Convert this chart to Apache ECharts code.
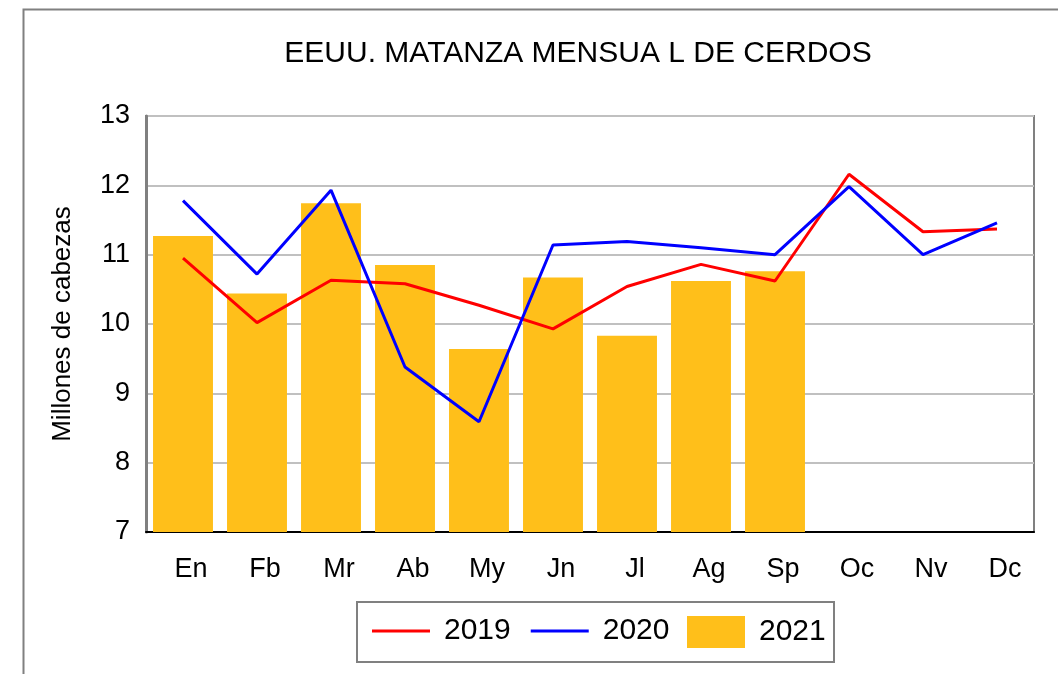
<!DOCTYPE html>
<html>
<head>
<meta charset="utf-8">
<script src="https://cdn.jsdelivr.net/npm/echarts@6/dist/echarts.min.js"></script>
<style>html,body{margin:0;padding:0;background:#fff;}#c{width:1058px;height:674px;}</style>
</head>
<body>
<div id="c"></div>
<script>
const categories = ['En','Fb','Mr','Ab','My','Jn','Jl','Ag','Sp','Oc','Nv','Dc'];
const s2019 = [10.95, 10.02, 10.63, 10.58, 10.27, 9.93, 10.54, 10.86, 10.62, 12.16, 11.33, 11.37];
const s2020 = [11.78, 10.72, 11.93, 9.38, 8.59, 11.14, 11.19, 11.10, 11.00, 11.98, 11.00, 11.46];
const s2021 = [11.27, 10.44, 11.74, 10.85, 9.64, 10.67, 9.83, 10.62, 10.76, null, null, null];
const yTicks = [7, 8, 9, 10, 11, 12, 13];

const chart = echarts.init(document.getElementById('c'));
const font = '"Liberation Sans", Arial, sans-serif';
const legendText = {fontFamily: font, fontSize: 30, color: '#000', padding: [0, 0, 0, 9]};
chart.setOption({
  backgroundColor: '#fff',
  animation: false,
  graphic: [{
    type: 'rect', left: 21, top: 7,
    shape: {width: 1100, height: 700},
    style: {fill: 'none', stroke: '#808080', lineWidth: 2}, silent: true, z: -1
  }, {
    type: 'rect', left: 356, top: 601,
    shape: {width: 477, height: 60},
    style: {fill: '#fff', stroke: '#808080', lineWidth: 2}, silent: true, z: -1
  }],
  title: {
    text: 'EEUU. MATANZA MENSUA L DE CERDOS',
    left: 573, top: 34, textAlign: 'center',
    textStyle: {fontFamily: font, fontSize: 30, fontWeight: 'normal', color: '#000'}
  },
  grid: {
    left: 146, right: 24, top: 116, bottom: 142,
    show: true, borderColor: '#808080', borderWidth: 2, containLabel: false
  },
  legend: [{
    left: 372, top: 616, padding: 0,
    data: ['2019', '2020'], icon: 'rect',
    itemWidth: 58, itemHeight: 3, itemGap: 20,
    textStyle: legendText
  }, {
    left: 687, top: 616, padding: 0,
    data: ['2021'], icon: 'rect',
    itemWidth: 58, itemHeight: 32,
    textStyle: legendText
  }],
  xAxis: {
    type: 'category', data: categories,
    axisLine: {show: true, lineStyle: {color: '#000', width: 2}},
    axisTick: {show: false},
    axisLabel: {fontFamily: font, fontSize: 27, color: '#000', margin: 24, interval: 0, padding: [0, 0, 0, 16]}
  },
  yAxis: {
    type: 'value', min: 7, max: 13, interval: 1,
    name: 'Millones de cabezas', nameLocation: 'middle', nameGap: 70,
    nameTextStyle: {fontFamily: font, fontSize: 26, color: '#000'},
    axisLine: {show: true, lineStyle: {color: '#808080', width: 3}},
    axisTick: {show: false},
    axisLabel: {fontFamily: font, fontSize: 27, color: '#000', margin: 16},
    splitLine: {show: true, lineStyle: {color: '#C0C0C0', width: 2}}
  },
  series: [
    {name: '2021', type: 'bar', data: s2021, barWidth: '81%',
     itemStyle: {color: '#FFBF1A'}, z: 1},
    {name: '2019', type: 'line', data: s2019, symbol: 'none',
     lineStyle: {color: '#FF0000', width: 3}, itemStyle: {color: '#FF0000'}, z: 3},
    {name: '2020', type: 'line', data: s2020, symbol: 'none',
     lineStyle: {color: '#0000FF', width: 3}, itemStyle: {color: '#0000FF'}, z: 4}
  ]
});
</script>
</body>
</html>
